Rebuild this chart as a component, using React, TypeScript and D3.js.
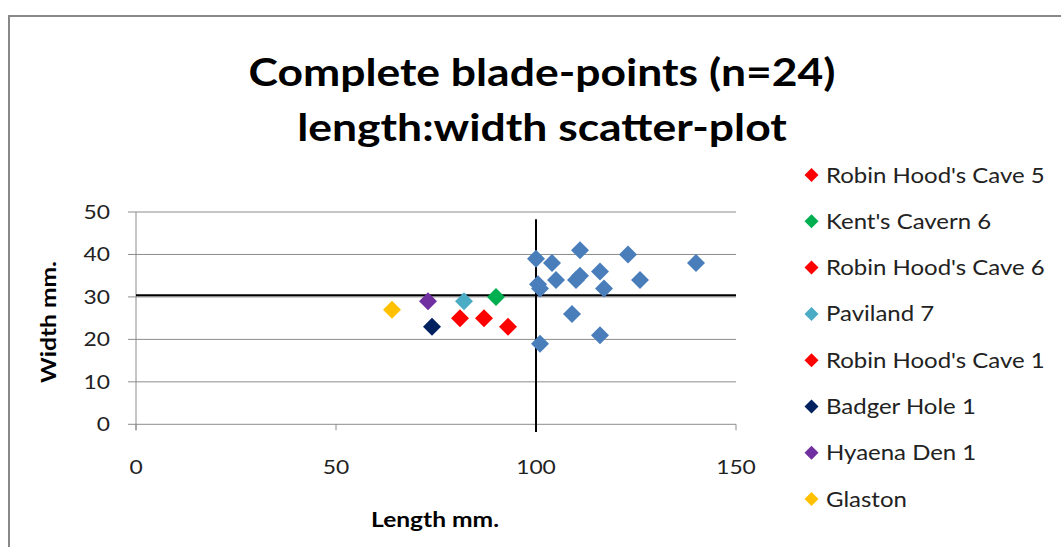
import React from "react";
import * as d3 from "d3";

const W = 1061;
const H = 547;

// Main (unlabelled) series
const otherX = [100, 104, 111, 123, 140, 105, 110, 111, 116, 126, 117, 100.5, 101, 109, 116, 101];
const otherY = [39, 38, 41, 40, 38, 34, 34, 35, 36, 34, 32, 33, 32, 26, 21, 19];

// Labelled series (legend order)
const seriesNames = [
  "Robin Hood's Cave 5",
  "Kent's Cavern 6",
  "Robin Hood's Cave 6",
  "Paviland 7",
  "Robin Hood's Cave 1",
  "Badger Hole 1",
  "Hyaena Den 1",
  "Glaston",
];
const seriesX = [81, 90, 87, 82, 93, 74, 73, 64];
const seriesY = [25, 30, 25, 29, 23, 23, 29, 27];
const seriesColors = ["#FF0000", "#00B050", "#FF0000", "#4BACC6", "#FF0000", "#002060", "#7030A0", "#FFC000"];

const xTicks = [0, 50, 100, 150];
const yTicks = [0, 10, 20, 30, 40, 50];

// Reference lines (data units)
const hLineY = 30.4;
const hLineX = [0, 150];
const vLineX = 100;
const vLineY = [-1.8, 48.3];

const titleLines = ["Complete blade-points (n=24)", "length:width scatter-plot"];
const xTitle = "Length mm.";
const yTitle = "Width mm.";

const FONT = "Lato, 'Open Sans', sans-serif";
const SX = 1.17; // horizontal stretch of the original rendering

export default function App() {
  const x = d3.scaleLinear().domain([0, 150]).range([136, 736]);
  const y = d3.scaleLinear().domain([0, 50]).range([424.3, 212]);

  const diamond = (cx: number, cy: number, r: number) =>
    `M${cx},${cy - r}L${cx + r},${cy}L${cx},${cy + r}L${cx - r},${cy}Z`;

  const legendTop = 175;
  const legendStep = 46.3;

  const T = (
    px: number,
    py: number,
    content: string,
    opts: { anchor?: string; size: number; bold?: boolean; fill?: string; rot?: number; key?: string }
  ) => (
    <text
      key={opts.key}
      transform={`translate(${px},${py})${opts.rot ? ` rotate(${opts.rot})` : ""} scale(${SX},1)`}
      textAnchor={opts.anchor || "start"}
      fontFamily={FONT}
      fontWeight={opts.bold ? "bold" : "normal"}
      fontSize={opts.size}
      fill={opts.fill || "#222"}
    >
      {content}
    </text>
  );

  return (
    <div style={{ position: "absolute", left: 0, top: 0 }}>
      <svg width={W} height={H} style={{ display: "block", background: "#fff" }}>
        <rect x={9} y={16} width={1200} height={700} fill="#fff" stroke="#888" strokeWidth={2} />

        {titleLines.map((t, i) =>
          T(542, 86 + i * 55, t, { anchor: "middle", size: 38, bold: true, fill: "#000", key: "t" + i })
        )}

        {/* gridlines */}
        {yTicks.map((t) => (
          <line key={t} x1={128} x2={736} y1={y(t)} y2={y(t)} stroke="#8c8c8c" strokeWidth={1} />
        ))}
        {/* y axis */}
        <line x1={x(0)} x2={x(0)} y1={y(50)} y2={y(0) + 6} stroke="#8c8c8c" strokeWidth={1} />
        {xTicks.map((t) => (
          <line key={t} x1={x(t)} x2={x(t)} y1={y(0)} y2={y(0) + 6} stroke="#8c8c8c" strokeWidth={1} />
        ))}

        {/* tick labels */}
        {yTicks.map((t) => T(110, y(t) + 7, String(t), { anchor: "end", size: 19.5, key: "y" + t }))}
        {xTicks.map((t) => T(x(t), 474, String(t), { anchor: "middle", size: 19.5, key: "x" + t }))}

        {/* axis titles */}
        {T(435, 527, xTitle, { anchor: "middle", size: 21, bold: true, fill: "#000" })}
        {T(56, 322, yTitle, { anchor: "middle", size: 21, bold: true, fill: "#000", rot: -90 })}

        {/* reference lines */}
        <line x1={x(hLineX[0])} x2={x(hLineX[1])} y1={y(hLineY)} y2={y(hLineY)} stroke="#000" strokeWidth={2} />
        <line x1={x(vLineX)} x2={x(vLineX)} y1={y(vLineY[0])} y2={y(vLineY[1])} stroke="#000" strokeWidth={2} />

        {/* points */}
        {otherX.map((vx, i) => (
          <path key={"o" + i} d={diamond(x(vx), y(otherY[i]), 9)} fill="#4A7EBB" />
        ))}
        {seriesX.map((vx, i) => (
          <path key={"s" + i} d={diamond(x(vx), y(seriesY[i]), 9)} fill={seriesColors[i]} />
        ))}

        {/* legend */}
        {seriesNames.map((n, i) => (
          <g key={n} transform={`translate(0,${legendTop + i * legendStep})`}>
            <path d={diamond(811.5, 0, 7)} fill={seriesColors[i]} />
            {T(826, 7.5, n, { size: 20.5 })}
          </g>
        ))}
      </svg>
    </div>
  );
}
